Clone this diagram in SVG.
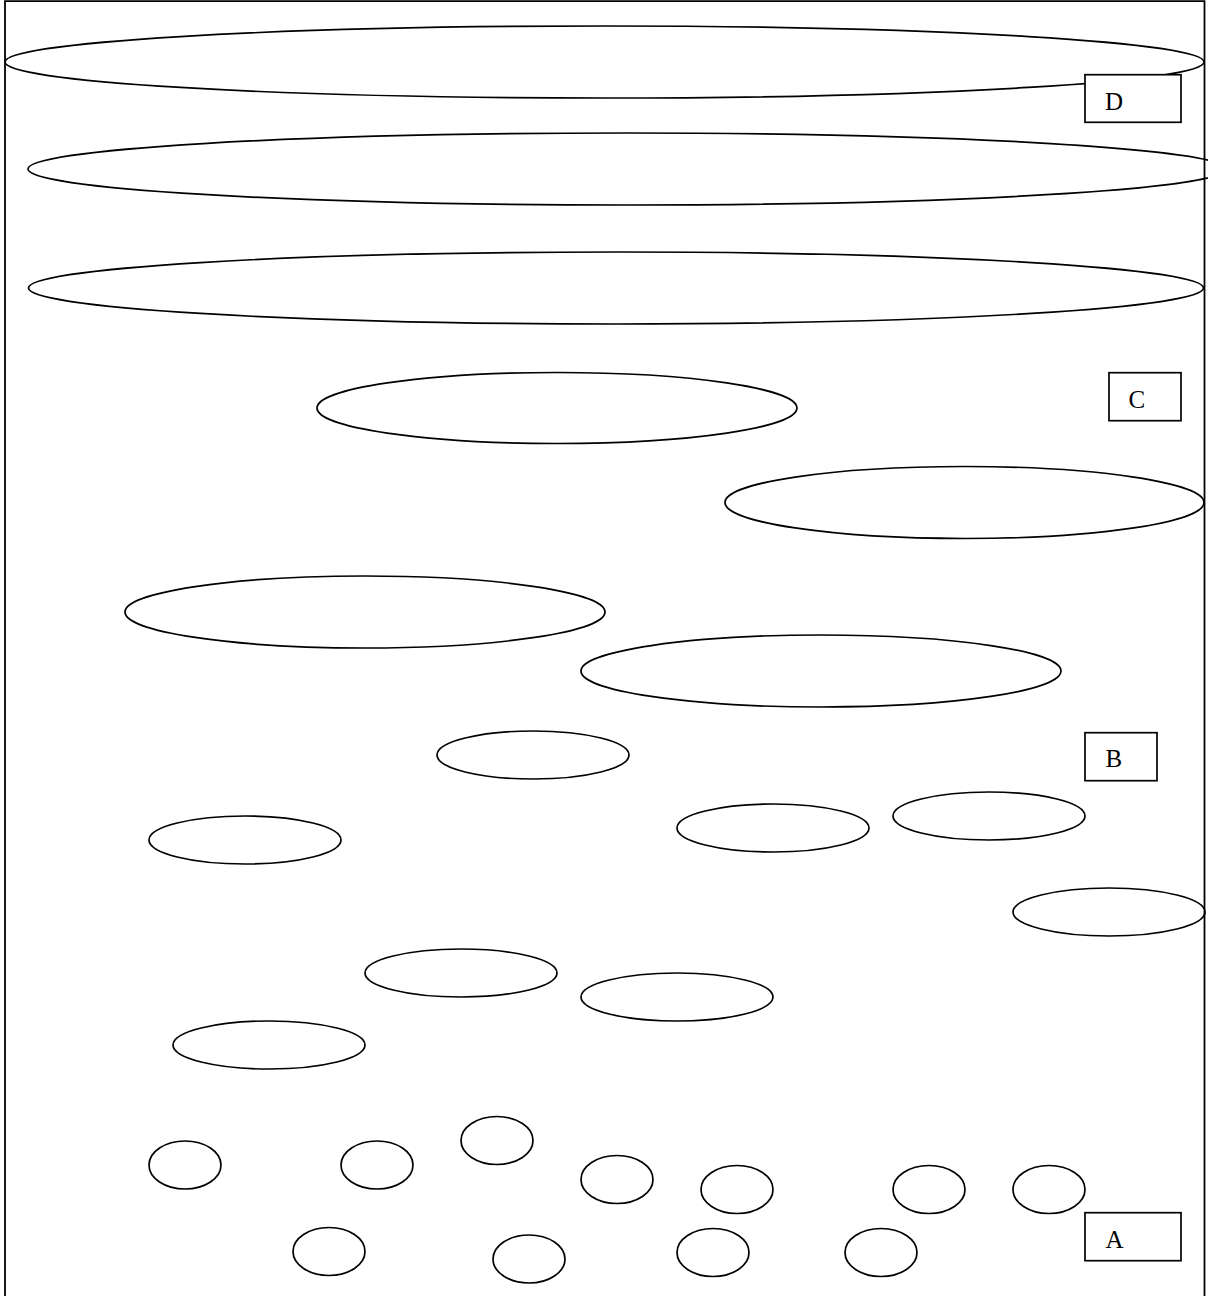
<svg xmlns="http://www.w3.org/2000/svg" width="1208" height="1296" viewBox="0 0 1208 1296">
<style>
.e{fill:none;stroke:#000;stroke-width:1.7}
.b{fill:#fff;stroke:#000;stroke-width:1.7}
.t{font-family:"Liberation Serif","Times New Roman",serif;font-size:25px;fill:#000}
</style>
<rect width="1208" height="1296" fill="#fff"/>
<g id="frame"><path d="M5,1300 V1.2 H1204.5 V1300" fill="none" stroke="#000" stroke-width="1.8"/></g>
<g id="ellipses">
<ellipse id="e1" class="e" cx="604.5" cy="62" rx="599.5" ry="36"/>
<ellipse id="e2" class="e" cx="627" cy="169" rx="599" ry="36"/>
<ellipse id="e3" class="e" cx="616" cy="288" rx="587.5" ry="36"/>
<ellipse id="e4" class="e" cx="557" cy="408" rx="240" ry="35.5"/>
<ellipse id="e5" class="e" cx="964.5" cy="502.5" rx="239.5" ry="36"/>
<ellipse id="e6" class="e" cx="365" cy="612" rx="240" ry="36"/>
<ellipse id="e7" class="e" cx="821" cy="671" rx="240" ry="36"/>
<ellipse id="e8" class="e" cx="533" cy="755" rx="96" ry="24"/>
<ellipse id="e9" class="e" cx="245" cy="840" rx="96" ry="24"/>
<ellipse id="e10" class="e" cx="773" cy="828" rx="96" ry="24"/>
<ellipse id="e11" class="e" cx="989" cy="816" rx="96" ry="24"/>
<ellipse id="e12" class="e" cx="1109" cy="912" rx="96" ry="24"/>
<ellipse id="e13" class="e" cx="461" cy="973" rx="96" ry="24"/>
<ellipse id="e14" class="e" cx="677" cy="997" rx="96" ry="24"/>
<ellipse id="e15" class="e" cx="269" cy="1045" rx="96" ry="24"/>
<ellipse id="c1" class="e" cx="185" cy="1165" rx="36" ry="24"/>
<ellipse id="c2" class="e" cx="377" cy="1165" rx="36" ry="24"/>
<ellipse id="c3" class="e" cx="497" cy="1140.5" rx="36" ry="24"/>
<ellipse id="c4" class="e" cx="617" cy="1179.5" rx="36" ry="24"/>
<ellipse id="c5" class="e" cx="737" cy="1189.5" rx="36" ry="24"/>
<ellipse id="c6" class="e" cx="929" cy="1189.5" rx="36" ry="24"/>
<ellipse id="c7" class="e" cx="1049" cy="1189.5" rx="36" ry="24"/>
<ellipse id="c8" class="e" cx="329" cy="1251.5" rx="36" ry="24"/>
<ellipse id="c9" class="e" cx="529" cy="1259" rx="36" ry="24"/>
<ellipse id="c10" class="e" cx="713" cy="1252.5" rx="36" ry="24"/>
<ellipse id="c11" class="e" cx="881" cy="1252.5" rx="36" ry="24"/>
</g>
<g id="labelD"><rect class="b" x="1085" y="74.7" width="96" height="47.6"/><text class="t" x="1105" y="109.5">D</text></g>
<g id="labelC"><rect class="b" x="1109" y="372.7" width="72" height="48"/><text class="t" x="1128.5" y="407.7">C</text></g>
<g id="labelB"><rect class="b" x="1085" y="732.7" width="72" height="48"/><text class="t" x="1105.5" y="766.7">B</text></g>
<g id="labelA"><rect class="b" x="1085" y="1212.7" width="96" height="48"/><text class="t" x="1105.5" y="1248.3">A</text></g>
<g id="connectors"/>
</svg>
